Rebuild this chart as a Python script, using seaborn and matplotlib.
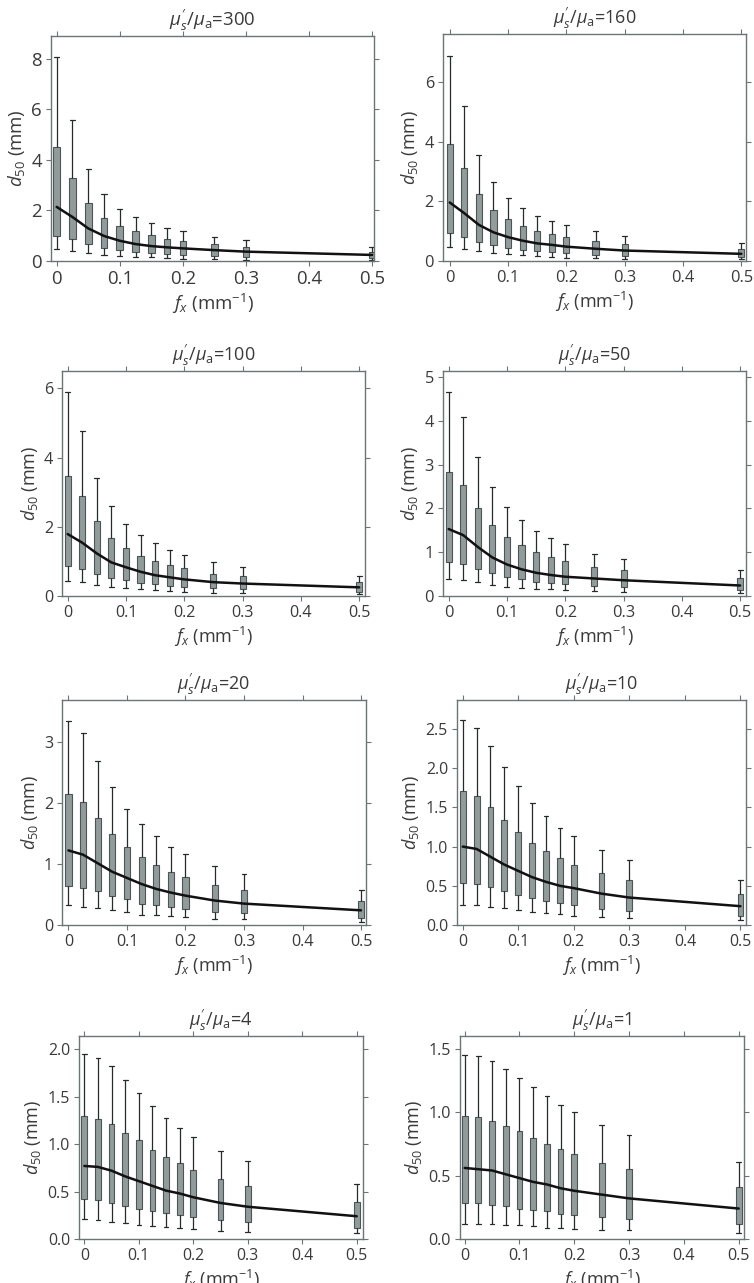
"""
d50 box plots versus spatial frequency for several mu_s'/mu_a ratios
"""

import numpy as np
import pandas as pd
import matplotlib
matplotlib.use("Agg")
import matplotlib.pyplot as plt
import seaborn as sns

fx = [0, 0.025, 0.05, 0.075, 0.1, 0.125, 0.15, 0.175, 0.2, 0.25, 0.3, 0.5]
ratios = [300, 160, 100, 50, 20, 10, 4, 1]

# one row per fx: lower whisker, q1, median, q3, upper whisker (mm)
d50_300 = [
    [0.47, 1.00, 2.14, 4.51, 8.07],
    [0.41, 0.86, 1.74, 3.30, 5.57],
    [0.30, 0.66, 1.29, 2.28, 3.62],
    [0.25, 0.53, 0.99, 1.72, 2.67],
    [0.21, 0.43, 0.80, 1.38, 2.07],
    [0.17, 0.37, 0.67, 1.18, 1.75],
    [0.14, 0.33, 0.59, 1.01, 1.49],
    [0.11, 0.28, 0.54, 0.89, 1.30],
    [0.09, 0.24, 0.50, 0.79, 1.17],
    [0.07, 0.20, 0.43, 0.66, 0.96],
    [0.05, 0.14, 0.37, 0.54, 0.83],
    [0.04, 0.11, 0.24, 0.37, 0.55],
]
d50_160 = [
    [0.46, 0.93, 1.96, 3.93, 6.87],
    [0.40, 0.82, 1.60, 3.12, 5.19],
    [0.34, 0.65, 1.21, 2.24, 3.55],
    [0.27, 0.52, 0.96, 1.72, 2.65],
    [0.22, 0.44, 0.80, 1.40, 2.11],
    [0.19, 0.37, 0.68, 1.18, 1.76],
    [0.17, 0.34, 0.59, 1.02, 1.51],
    [0.13, 0.29, 0.54, 0.91, 1.33],
    [0.11, 0.26, 0.48, 0.80, 1.19],
    [0.09, 0.20, 0.41, 0.67, 0.99],
    [0.07, 0.17, 0.35, 0.56, 0.84],
    [0.06, 0.13, 0.24, 0.41, 0.59],
]
d50_100 = [
    [0.43, 0.88, 1.79, 3.47, 5.90],
    [0.40, 0.79, 1.54, 2.90, 4.78],
    [0.33, 0.65, 1.23, 2.16, 3.42],
    [0.27, 0.53, 0.97, 1.69, 2.61],
    [0.23, 0.45, 0.83, 1.38, 2.09],
    [0.19, 0.39, 0.70, 1.17, 1.76],
    [0.17, 0.34, 0.60, 1.02, 1.52],
    [0.14, 0.30, 0.54, 0.89, 1.32],
    [0.12, 0.27, 0.48, 0.80, 1.19],
    [0.10, 0.22, 0.40, 0.65, 0.98],
    [0.08, 0.19, 0.36, 0.58, 0.84],
    [0.06, 0.13, 0.25, 0.40, 0.58],
]
d50_50 = [
    [0.39, 0.78, 1.53, 2.84, 4.67],
    [0.36, 0.72, 1.39, 2.53, 4.08],
    [0.31, 0.62, 1.12, 2.01, 3.18],
    [0.26, 0.52, 0.88, 1.63, 2.50],
    [0.21, 0.44, 0.72, 1.35, 2.04],
    [0.19, 0.39, 0.61, 1.16, 1.73],
    [0.17, 0.33, 0.53, 1.00, 1.49],
    [0.15, 0.30, 0.48, 0.88, 1.32],
    [0.14, 0.28, 0.44, 0.81, 1.18],
    [0.11, 0.22, 0.40, 0.67, 0.97],
    [0.08, 0.20, 0.36, 0.59, 0.84],
    [0.06, 0.13, 0.24, 0.40, 0.59],
]
d50_20 = [
    [0.32, 0.63, 1.22, 2.14, 3.34],
    [0.30, 0.61, 1.15, 2.01, 3.14],
    [0.27, 0.55, 1.01, 1.75, 2.69],
    [0.24, 0.47, 0.87, 1.49, 2.26],
    [0.21, 0.42, 0.77, 1.28, 1.90],
    [0.17, 0.35, 0.67, 1.11, 1.65],
    [0.16, 0.32, 0.59, 0.98, 1.45],
    [0.14, 0.29, 0.53, 0.86, 1.28],
    [0.13, 0.26, 0.48, 0.79, 1.16],
    [0.10, 0.22, 0.40, 0.65, 0.97],
    [0.09, 0.19, 0.35, 0.58, 0.84],
    [0.05, 0.12, 0.24, 0.40, 0.58],
]
d50_10 = [
    [0.26, 0.54, 1.00, 1.71, 2.61],
    [0.26, 0.52, 0.97, 1.65, 2.51],
    [0.23, 0.48, 0.87, 1.51, 2.28],
    [0.22, 0.44, 0.77, 1.34, 2.01],
    [0.19, 0.38, 0.69, 1.18, 1.77],
    [0.17, 0.34, 0.61, 1.05, 1.56],
    [0.15, 0.30, 0.55, 0.94, 1.39],
    [0.14, 0.28, 0.50, 0.85, 1.24],
    [0.12, 0.25, 0.47, 0.76, 1.13],
    [0.10, 0.21, 0.40, 0.66, 0.96],
    [0.09, 0.18, 0.35, 0.57, 0.83],
    [0.06, 0.12, 0.24, 0.40, 0.58],
]
d50_4 = [
    [0.21, 0.42, 0.77, 1.30, 1.95],
    [0.20, 0.41, 0.76, 1.27, 1.91],
    [0.18, 0.38, 0.72, 1.21, 1.82],
    [0.17, 0.35, 0.66, 1.12, 1.68],
    [0.15, 0.32, 0.61, 1.04, 1.54],
    [0.14, 0.30, 0.56, 0.94, 1.40],
    [0.13, 0.27, 0.51, 0.86, 1.28],
    [0.12, 0.25, 0.48, 0.80, 1.17],
    [0.11, 0.23, 0.44, 0.73, 1.08],
    [0.08, 0.20, 0.38, 0.63, 0.93],
    [0.07, 0.18, 0.34, 0.56, 0.82],
    [0.06, 0.12, 0.24, 0.39, 0.58],
]
d50_1 = [
    [0.12, 0.28, 0.56, 0.97, 1.45],
    [0.12, 0.28, 0.55, 0.96, 1.44],
    [0.12, 0.27, 0.54, 0.93, 1.40],
    [0.11, 0.26, 0.51, 0.89, 1.34],
    [0.11, 0.24, 0.48, 0.85, 1.27],
    [0.10, 0.23, 0.45, 0.80, 1.20],
    [0.09, 0.22, 0.43, 0.75, 1.13],
    [0.09, 0.20, 0.40, 0.71, 1.06],
    [0.08, 0.19, 0.38, 0.67, 1.00],
    [0.07, 0.17, 0.35, 0.60, 0.90],
    [0.07, 0.16, 0.32, 0.55, 0.82],
    [0.05, 0.12, 0.24, 0.41, 0.61],
]
panel_stats = [d50_300, d50_160, d50_100, d50_50, d50_20, d50_10, d50_4, d50_1]

y_max = [8.9, 7.6, 6.5, 5.14, 3.68, 2.87, 2.14, 1.6]
y_ticks = [
    [0, 2, 4, 6, 8],
    [0, 2, 4, 6],
    [0, 2, 4, 6],
    [0, 1, 2, 3, 4, 5],
    [0, 1, 2, 3],
    [0.0, 0.5, 1.0, 1.5, 2.0, 2.5],
    [0.0, 0.5, 1.0, 1.5, 2.0],
    [0.0, 0.5, 1.0, 1.5],
]
x_ticks = [0, 0.1, 0.2, 0.3, 0.4, 0.5]
x_ticklabels = ["0", "0.1", "0.2", "0.3", "0.4", "0.5"]

# axes boxes in pixels: left, top, right, bottom
W, H = 754, 1283
panel_px = [
    (51, 36, 374, 261), (443, 34, 746, 261),
    (62, 371, 365, 596), (443, 371, 746, 596),
    (62, 700, 366, 925), (457, 700, 746, 925),
    (79, 1036, 363, 1239), (460, 1036, 744, 1239),
]
x_lims = [
    (-0.009, 0.503), (-0.0115, 0.508), (-0.0097, 0.510), (-0.0097, 0.510),
    (-0.011, 0.5085), (-0.0103, 0.510), (-0.0098, 0.5115), (-0.0085, 0.5096),
]
label_sizes = [13.4, 13.0, 13.0, 13.0, 13.0, 13.0, 13.0, 13.0]
tick_sizes = [13.4, 11.8, 11.6, 11.8, 11.6, 11.4, 11.4, 11.6]

BOX = "#8e9d9c"
EDGE = "#4c5656"
WHISK = "#262a2a"
SPINE = "#6c7575"
TEXT = "#3a3a3a"

sns.set_theme(style="ticks")
plt.rcParams["font.family"] = ["Open Sans", "DejaVu Sans"]
plt.rcParams["mathtext.fontset"] = "custom"
plt.rcParams["mathtext.rm"] = "Open Sans"
plt.rcParams["mathtext.it"] = "Open Sans:italic"
plt.rcParams["mathtext.bf"] = "Open Sans:bold"

fig = plt.figure(figsize=(W / 100, H / 100), dpi=100)

for i, ratio in enumerate(ratios):
    l, t, r, b = panel_px[i]
    ax = fig.add_axes([l / W, 1 - b / H, (r - l) / W, (b - t) / H])
    stats = np.array(panel_stats[i])
    df = pd.DataFrame({"fx": np.repeat(fx, 5), "d50": stats.ravel()})

    sns.boxplot(
        data=df, x="fx", y="d50", native_scale=True, width=0.42,
        whis=(0, 100), color=BOX, linecolor=EDGE, linewidth=0.8,
        showfliers=False, capwidths=0.0085,
        medianprops={"visible": False},
        whiskerprops={"color": WHISK, "linewidth": 0.9},
        capprops={"color": WHISK, "linewidth": 0.9},
        ax=ax
    )
    sns.lineplot(x=fx, y=stats[:, 2], color="#111111", linewidth=1.8, ax=ax)

    fs = label_sizes[i]
    ax.set_xlim(*x_lims[i])
    ax.set_ylim(0, y_max[i])
    ax.set_xticks(x_ticks)
    ax.set_xticklabels(x_ticklabels)
    ax.set_yticks(y_ticks[i])
    if i >= 5:
        ax.set_yticklabels([f"{v:.1f}" for v in y_ticks[i]])
    else:
        ax.set_yticklabels([f"{v:g}" for v in y_ticks[i]])

    ax.tick_params(
        direction="out", length=3.5, width=0.8, color=SPINE,
        labelsize=tick_sizes[i], labelcolor=TEXT, top=True, right=True, pad=3
    )
    for side in ["left", "right", "top", "bottom"]:
        ax.spines[side].set_visible(True)
        ax.spines[side].set_color(SPINE)
        ax.spines[side].set_linewidth(1.0)

    ax.set_title(r"$\mu_s^{\prime}/\mu_\mathrm{a}$=" + str(ratio),
                 fontsize=fs, color=TEXT, pad=7)
    ax.set_xlabel(r"$f_x$ (mm$^{-1}$)", fontsize=fs, color=TEXT, labelpad=3)
    ax.set_ylabel(r"$d_{50}$ (mm)", fontsize=fs, color=TEXT, labelpad=3)

fig.savefig("out.png", dpi=100)
plt.close(fig)
